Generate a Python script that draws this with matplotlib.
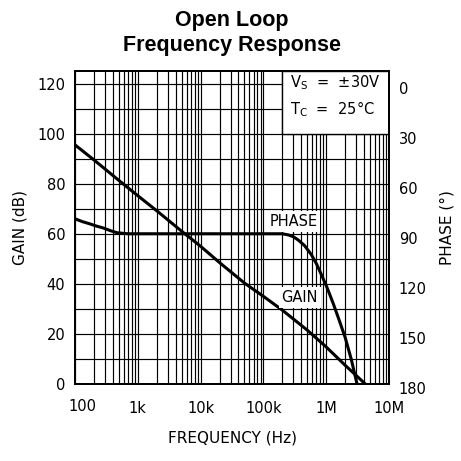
import matplotlib
matplotlib.use("Agg")
import matplotlib.pyplot as plt
import matplotlib.transforms as mtransforms
from matplotlib.patches import Rectangle
from matplotlib.ticker import FixedLocator, LogLocator, NullFormatter

# ---- data ----
gain_freq = [100, 200, 500, 1e3, 2e3, 5e3, 1e4, 2e4, 5e4, 1e5, 2e5, 5e5, 1e6, 2e6, 4.2e6]
gain_db = [95.5, 89.5, 81.3, 75.2, 69.2, 61, 55, 48.5, 40.3, 35, 29.5, 21.5, 14.8, 7.5, 0]

phase_freq = [100, 130, 170, 220, 280, 370, 470, 700, 1e4, 2e5, 2.5e5, 3e5, 3.6e5, 4.5e5,
              5.8e5, 7e5, 8.5e5, 1e6, 1.15e6, 1.3e6, 1.6e6, 2e6, 2.5e6, 3.1e6]
phase_deg = [81, 82.7, 84, 85.4, 86.5, 88.2, 89.4, 90, 90, 90, 90.7, 91.8, 93.8, 97,
             102.5, 108, 115, 121, 126.8, 132, 141.5, 152, 165, 180]

x_ticks = [100, 1e3, 1e4, 1e5, 1e6, 1e7]
x_ticklabels = ["100", "1k", "10k", "100k", "1M", "10M"]
gain_ticks = [0, 20, 40, 60, 80, 100, 120]
phase_ticks = [0, 30, 60, 90, 120, 150, 180]

fig = plt.figure(figsize=(4.61, 4.61), dpi=100)
ax = fig.add_axes([75/461, 1-384/461, 314/461, 313/461])
ax.set_xscale("log")
ax.set_xlim(100, 1e7)
ax.set_ylim(0, 125)
ax.set_axisbelow(True)

ax.xaxis.set_major_locator(FixedLocator(x_ticks))
ax.set_xticklabels(x_ticklabels)
ax.xaxis.set_minor_locator(LogLocator(base=10, subs=range(2, 10), numticks=50))
ax.xaxis.set_minor_formatter(NullFormatter())
ax.set_yticks(gain_ticks)
ax.yaxis.set_minor_locator(FixedLocator(list(range(10, 125, 20))))
ax.grid(True, which="both", color="black", linewidth=0.85)

ax.tick_params(which="both", length=0)
ax.tick_params(axis="x", pad=12, labelsize=10.5)
ax.tick_params(axis="y", pad=7, labelsize=10.5)
for s in ax.spines.values():
    s.set_linewidth(1.3)
    s.set_zorder(5)

# shift first x label right like the reference
lbl0 = ax.get_xticklabels()[0]
lbl0.set_transform(lbl0.get_transform() + mtransforms.ScaledTranslation(7/100, 2/100, fig.dpi_scale_trans))

ax.plot(gain_freq, gain_db, color="black", linewidth=2.2, zorder=3, solid_joinstyle="round")

# condition box
ax.add_patch(Rectangle((2e5, 100), 1e7 - 2e5, 25, facecolor="white",
                       edgecolor="black", linewidth=1.0, zorder=1))
ax.text(2.65e5, 118.4, r"V$_\mathregular{S}$  =  ±30V", fontsize=10.5, va="baseline", ha="left", zorder=4)
ax.text(2.65e5, 107.6, r"T$_\mathregular{C}$  =  25°C", fontsize=10.5, va="baseline", ha="left", zorder=4)

ax.text(3.0e5, 65, "PHASE", fontsize=10.5, ha="center", va="center", zorder=4,
        bbox=dict(facecolor="white", edgecolor="none", pad=2))
ax.text(3.76e5, 34.6, "GAIN", fontsize=10.5, ha="center", va="center", zorder=4,
        bbox=dict(facecolor="white", edgecolor="none", pad=2))

ax.set_xlabel("FREQUENCY (Hz)", fontsize=11, labelpad=11)
ax.set_ylabel("GAIN (dB)", fontsize=11, labelpad=7)

ax2 = ax.twinx()
ax2.set_ylim(180, -7.5)
ax2.set_yticks(phase_ticks)
ax2.tick_params(length=0, pad=7, labelsize=10.5)
for lab in ax2.get_yticklabels():
    lab.set_transform(lab.get_transform() + mtransforms.ScaledTranslation(0, -4/100, fig.dpi_scale_trans))
ax2.plot(phase_freq, phase_deg, color="black", linewidth=2.2, zorder=3, solid_joinstyle="round")
ax2.set_ylabel("PHASE (°)", fontsize=11, labelpad=9)
for s in ax2.spines.values():
    s.set_linewidth(1.3)

fig.text(232/461, 1-10/461, "Open Loop\nFrequency Response", ha="center", va="top",
         fontsize=15.5, fontweight="bold", family="Liberation Sans", linespacing=1.25)

fig.savefig("out.png", dpi=100)
